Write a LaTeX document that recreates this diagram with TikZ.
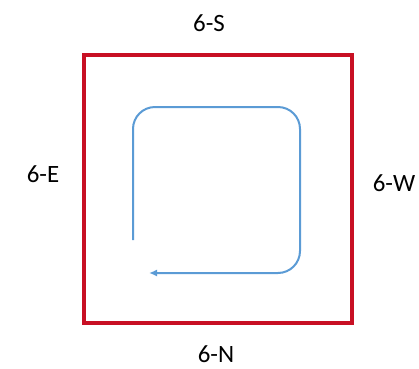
\documentclass[tikz,border=0pt]{standalone}
\usepackage{fontspec}
\setmainfont{Carlito}
\usetikzlibrary{arrows.meta}
\definecolor{wallred}{RGB}{200,16,36}
\definecolor{routeblue}{RGB}{91,155,213}

\begin{document}
\begin{tikzpicture}[x=1bp, y=-1bp, font=\fontsize{25}{30}\selectfont, >={Latex[length=8bp,width=7bp]},
wall/.style={draw=wallred, line width=3.5bp, minimum size=268bp, inner sep=0pt},
side/.style={inner sep=1pt},
route/.style={draw=routeblue, line width=2bp, rounded corners=22bp}]
\useasboundingbox (0,0) rectangle (419,369);
\node[wall] (room) at (218,189) {};
\node[side] (south) at (209,23) {6-S};
\node[side] (east) at (43,174) {6-E};
\node[side] (west) at (394,183) {6-W};
\node[side] (north) at (216,354) {6-N};
% walking loop inside the room
\coordinate (start) at (133,240);
\coordinate (nw) at (133,107);
\coordinate (ne) at (300,107);
\coordinate (se) at (300,273);
\coordinate (stop) at (149,273);
\draw[route, ->] (start) -- (nw) -- (ne) -- (se) -- (stop);
\end{tikzpicture}
\end{document}
